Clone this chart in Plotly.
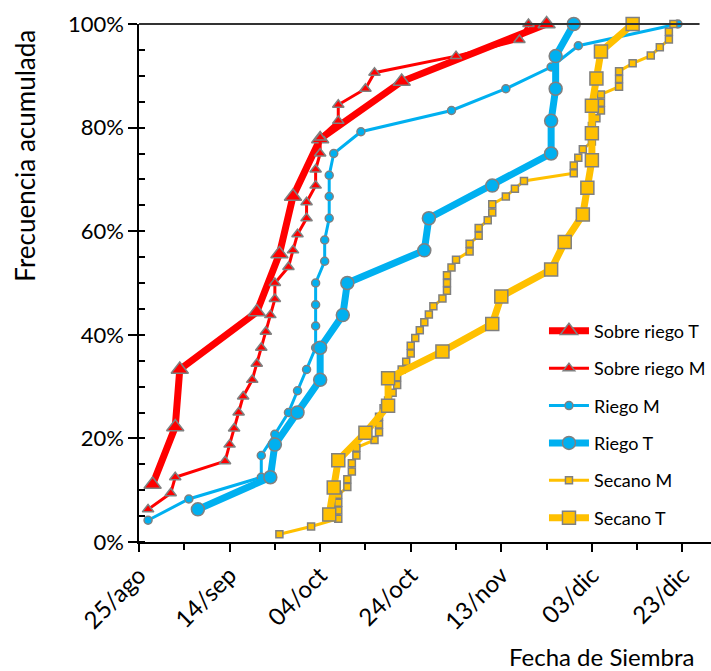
import pandas as pd
import plotly.graph_objects as go

YEAR = "2015-"

# Sowing dates (MM-DD) and cumulative frequency (%) for each group
sobre_t_dates = ["08-28", "09-02", "09-03", "09-20", "09-25", "09-28", "10-04", "10-22", "11-23"]
sobre_t_pct = [11.1, 22.2, 33.3, 44.4, 55.6, 66.7, 77.8, 88.9, 100.0]

sobre_m_dates = ["08-27", "09-01", "09-02", "09-13", "09-14", "09-15", "09-16", "09-17", "09-19",
                 "09-20", "09-21", "09-22", "09-23", "09-24", "09-24", "09-27", "09-28", "09-29",
                 "10-01", "10-01", "10-03", "10-03", "10-04", "10-04", "10-08", "10-08", "10-14",
                 "10-16", "11-03", "11-17", "11-19"]
sobre_m_pct = [6.3, 9.4, 12.5, 15.6, 18.8, 21.9, 25.0, 28.1, 31.3, 34.4, 37.5, 40.6, 43.8, 46.9,
               50.0, 53.1, 56.3, 59.4, 62.5, 65.6, 68.8, 71.9, 75.0, 78.1, 81.3, 84.4, 87.5,
               90.6, 93.8, 96.9, 100.0]

riego_m_dates = ["08-27", "09-05", "09-21", "09-21", "09-24", "09-27", "09-29", "10-01", "10-03",
                 "10-03", "10-03", "10-03", "10-05", "10-05", "10-06", "10-06", "10-06", "10-07",
                 "10-13", "11-02", "11-14", "11-24", "11-30", "12-22"]
riego_m_pct = [4.2, 8.3, 12.5, 16.7, 20.8, 25.0, 29.2, 33.3, 37.5, 41.7, 45.8, 50.0, 54.2, 58.3,
               62.5, 66.7, 70.8, 75.0, 79.2, 83.3, 87.5, 91.7, 95.8, 100.0]

riego_t_dates = ["09-07", "09-23", "09-24", "09-29", "10-04", "10-04", "10-09", "10-10", "10-27",
                 "10-28", "11-11", "11-24", "11-24", "11-25", "11-25", "11-29"]
riego_t_pct = [6.3, 12.5, 18.8, 25.0, 31.3, 37.5, 43.8, 50.0, 56.3, 62.5, 68.8, 75.0, 81.3, 87.5,
               93.8, 100.0]

secano_m_dates = ["09-25", "10-02", "10-08", "10-08", "10-08", "10-08", "10-10", "10-10", "10-11",
                  "10-11", "10-12", "10-12", "10-16", "10-17", "10-17", "10-17", "10-18", "10-19",
                  "10-20", "10-21", "10-21", "10-22", "10-23", "10-24", "10-24", "10-25", "10-26",
                  "10-27", "10-28", "10-29", "10-31", "11-01", "11-01", "11-01", "11-02", "11-03",
                  "11-06", "11-06", "11-08", "11-08", "11-10", "11-11", "11-11", "11-14", "11-16",
                  "11-18", "11-29", "11-29", "11-30", "12-01", "12-03", "12-03", "12-03", "12-04",
                  "12-05", "12-05", "12-05", "12-09", "12-09", "12-09", "12-12", "12-16", "12-18",
                  "12-20", "12-20", "12-21"]
secano_m_pct = [1.5, 3.0, 4.5, 6.1, 7.6, 9.1, 10.6, 12.1, 13.6, 15.2, 16.7, 18.2, 19.7, 21.2, 22.7,
                24.2, 25.8, 27.3, 28.8, 30.3, 31.8, 33.3, 34.8, 36.4, 37.9, 39.4, 40.9, 42.4, 43.9,
                45.5, 47.0, 48.5, 50.0, 51.5, 53.0, 54.5, 56.1, 57.6, 59.1, 60.6, 62.1, 63.6, 65.2,
                66.7, 68.2, 69.7, 71.2, 72.7, 74.2, 75.8, 77.3, 78.8, 80.3, 81.8, 83.3, 84.8, 86.4,
                87.9, 89.4, 90.9, 92.4, 93.9, 95.5, 97.0, 98.5, 100.0]

secano_t_dates = ["10-06", "10-07", "10-08", "10-14", "10-19", "10-19", "10-31", "11-11", "11-13",
                  "11-24", "11-27", "12-01", "12-02", "12-03", "12-03", "12-03", "12-04", "12-05",
                  "12-12"]
secano_t_pct = [5.3, 10.5, 15.8, 21.1, 26.3, 31.6, 36.8, 42.1, 47.4, 52.6, 57.9, 63.2, 68.4, 73.7,
                78.9, 84.2, 89.5, 94.7, 100.0]

tick_dates = ["08-25", "09-14", "10-04", "10-24", "11-13", "12-03", "12-23"]
tick_labels = ["25/ago", "14/sep", "04/oct", "24/oct", "13/nov", "03/dic", "23/dic"]
y_ticks = [0, 20, 40, 60, 80, 100]

RED = "#FF0000"
BLUE = "#00B0F0"
YELLOW = "#FFC000"
EDGE = "#808080"


def to_dates(md):
    return pd.to_datetime([YEAR + d for d in md])


series = [
    ("Sobre riego T", sobre_t_dates, sobre_t_pct, RED, 7, "triangle-up", 15),
    ("Sobre riego M", sobre_m_dates, sobre_m_pct, RED, 3, "triangle-up", 10),
    ("Riego M", riego_m_dates, riego_m_pct, BLUE, 3, "circle", 8),
    ("Riego T", riego_t_dates, riego_t_pct, BLUE, 7, "circle", 13),
    ("Secano M", secano_m_dates, secano_m_pct, YELLOW, 3, "square", 7),
    ("Secano T", secano_t_dates, secano_t_pct, YELLOW, 7, "square", 13),
]

fig = go.Figure()
for i, (name, d, p, color, lw, symbol, size) in enumerate(series):
    fig.add_trace(go.Scatter(
        x=to_dates(d), y=p, name=name, mode="lines+markers",
        line=dict(color=color, width=lw),
        marker=dict(symbol=symbol, size=size, color=color,
                    line=dict(color=EDGE, width=1.5)),
        cliponaxis=False, legendgroup=name, legendrank=i + 1,
    ))

x_start = pd.Timestamp(YEAR + "08-25")
x_end = x_start + pd.Timedelta(days=126.3)

fig.update_xaxes(
    type="date", range=[x_start, x_end], automargin=False,
    tickmode="array", tickvals=to_dates(tick_dates), ticktext=tick_labels,
    tickangle=-45, ticks="outside", ticklen=8, tickwidth=1.5, tickcolor="black",
    showline=True, linecolor="black", linewidth=1.5, showgrid=False, zeroline=False,
    tickfont=dict(size=24),
    minor=dict(ticks="outside", ticklen=6, tickwidth=1.5, tickcolor="black",
               tickmode="linear", tick0=x_start, dtick=10 * 86400000, showgrid=False),
)
fig.update_yaxes(
    range=[0, 100], automargin=False, tickmode="array", tickvals=y_ticks,
    ticktext=[f"{v}%" for v in y_ticks],
    ticks="outside", ticklen=9, tickwidth=1.5, tickcolor="black",
    showline=True, linecolor="black", linewidth=1.5, showgrid=False, zeroline=False,
    tickfont=dict(size=22),
    minor=dict(ticks="inside", ticklen=6, tickwidth=1.5, tickcolor="black",
               tickmode="linear", tick0=0, dtick=5, showgrid=False),
)

fig.update_layout(
    width=711, height=671,
    margin=dict(l=139, r=0, t=24, b=129, autoexpand=False),
    plot_bgcolor="white", paper_bgcolor="white",
    font=dict(family="Lato", size=22, color="black"),
    legend=dict(x=0.708, y=0.443, xanchor="left", yanchor="top",
                bgcolor="rgba(0,0,0,0)", font=dict(size=18),
                tracegroupgap=11, itemwidth=40),
    shapes=[dict(type="line", xref="paper", yref="paper", x0=0, x1=0.98, y0=1, y1=1,
                 line=dict(color="#333333", width=2))],
    annotations=[
        dict(text="Frecuencia acumulada", xref="paper", yref="paper",
             x=-0.20, y=0.745, textangle=-90, showarrow=False,
             xanchor="center", yanchor="middle", font=dict(size=26)),
        dict(text="Fecha de Siembra", xref="paper", yref="paper",
             x=0.808, y=-0.222, showarrow=False,
             xanchor="center", yanchor="middle", font=dict(size=24)),
    ],
)

fig.write_html("out.html")
